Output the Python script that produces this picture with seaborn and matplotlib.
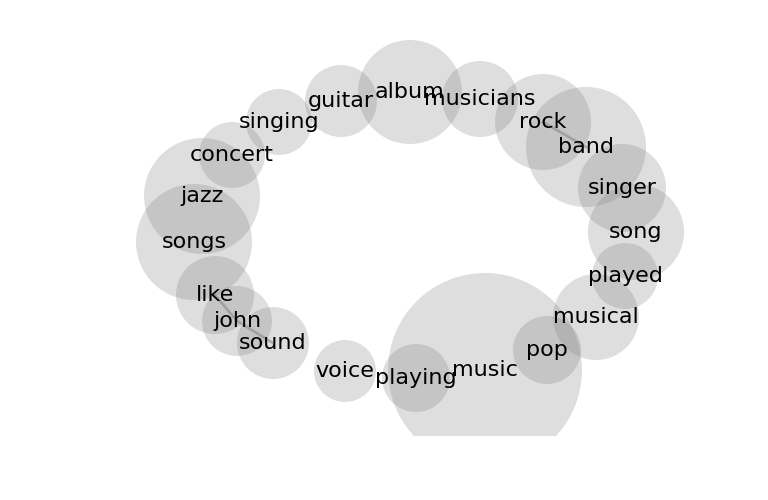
import pandas as pd
import seaborn as sns
import matplotlib.pyplot as plt

'''
Word bubble chart: each word drawn as a translucent circle, a few
neighbouring words joined by faint lines.
'''

words = ['album', 'musicians', 'guitar', 'singing', 'concert', 'jazz',
         'songs', 'like', 'john', 'sound', 'voice', 'playing', 'music',
         'pop', 'musical', 'played', 'song', 'singer', 'band', 'rock']
x_pos = [0.26, 0.96, -0.43, -1.05, -1.52, -1.82, -1.90, -1.69, -1.47,
         -1.11, -0.39, 0.32, 1.01, 1.63, 2.12, 2.41, 2.52, 2.38, 2.02, 1.59]
y_pos = [1.58, 1.51, 1.49, 1.28, 0.95, 0.54, 0.08, -0.45, -0.71, -0.93,
         -1.21, -1.28, -1.20, -1.00, -0.67, -0.26, 0.18, 0.62, 1.03, 1.28]
bubble_size = [5607, 2994, 2687, 2258, 2258, 6975, 6975, 3154, 2540, 2687,
               1993, 2397, 19510, 2397, 3834, 2258, 4778, 4014, 7465, 4778]
edges = [('rock', 'band'), ('like', 'john'), ('john', 'sound')]


def main():
    df = pd.DataFrame({'word': words, 'x': x_pos, 'y': y_pos,
                       'size': bubble_size})

    fig = plt.figure(figsize=(7.68, 5), dpi=100)
    ax = fig.add_axes([0, 0.128, 1, 0.872])

    sns.scatterplot(data=df, x='x', y='y', size='size',
                    sizes=(min(bubble_size), max(bubble_size)),
                    color='grey', alpha=0.26, linewidth=0, legend=False,
                    ax=ax, zorder=1)

    # faint links between close words
    lookup = df.set_index('word')
    for a, b in edges:
        ax.plot([lookup.loc[a, 'x'], lookup.loc[b, 'x']],
                [lookup.loc[a, 'y'], lookup.loc[b, 'y']],
                color='grey', alpha=0.5, lw=2, zorder=2)

    for _, row in df.iterrows():
        ax.text(row['x'], row['y'], row['word'], fontsize=16,
                ha='center', va='center', color='black', zorder=3)

    ax.set_xlim(-3.84, 3.84)
    ax.set_ylim(-1.86, 2.5)
    ax.axis('off')
    plt.savefig('out.png', dpi=100, facecolor='white')


main()
